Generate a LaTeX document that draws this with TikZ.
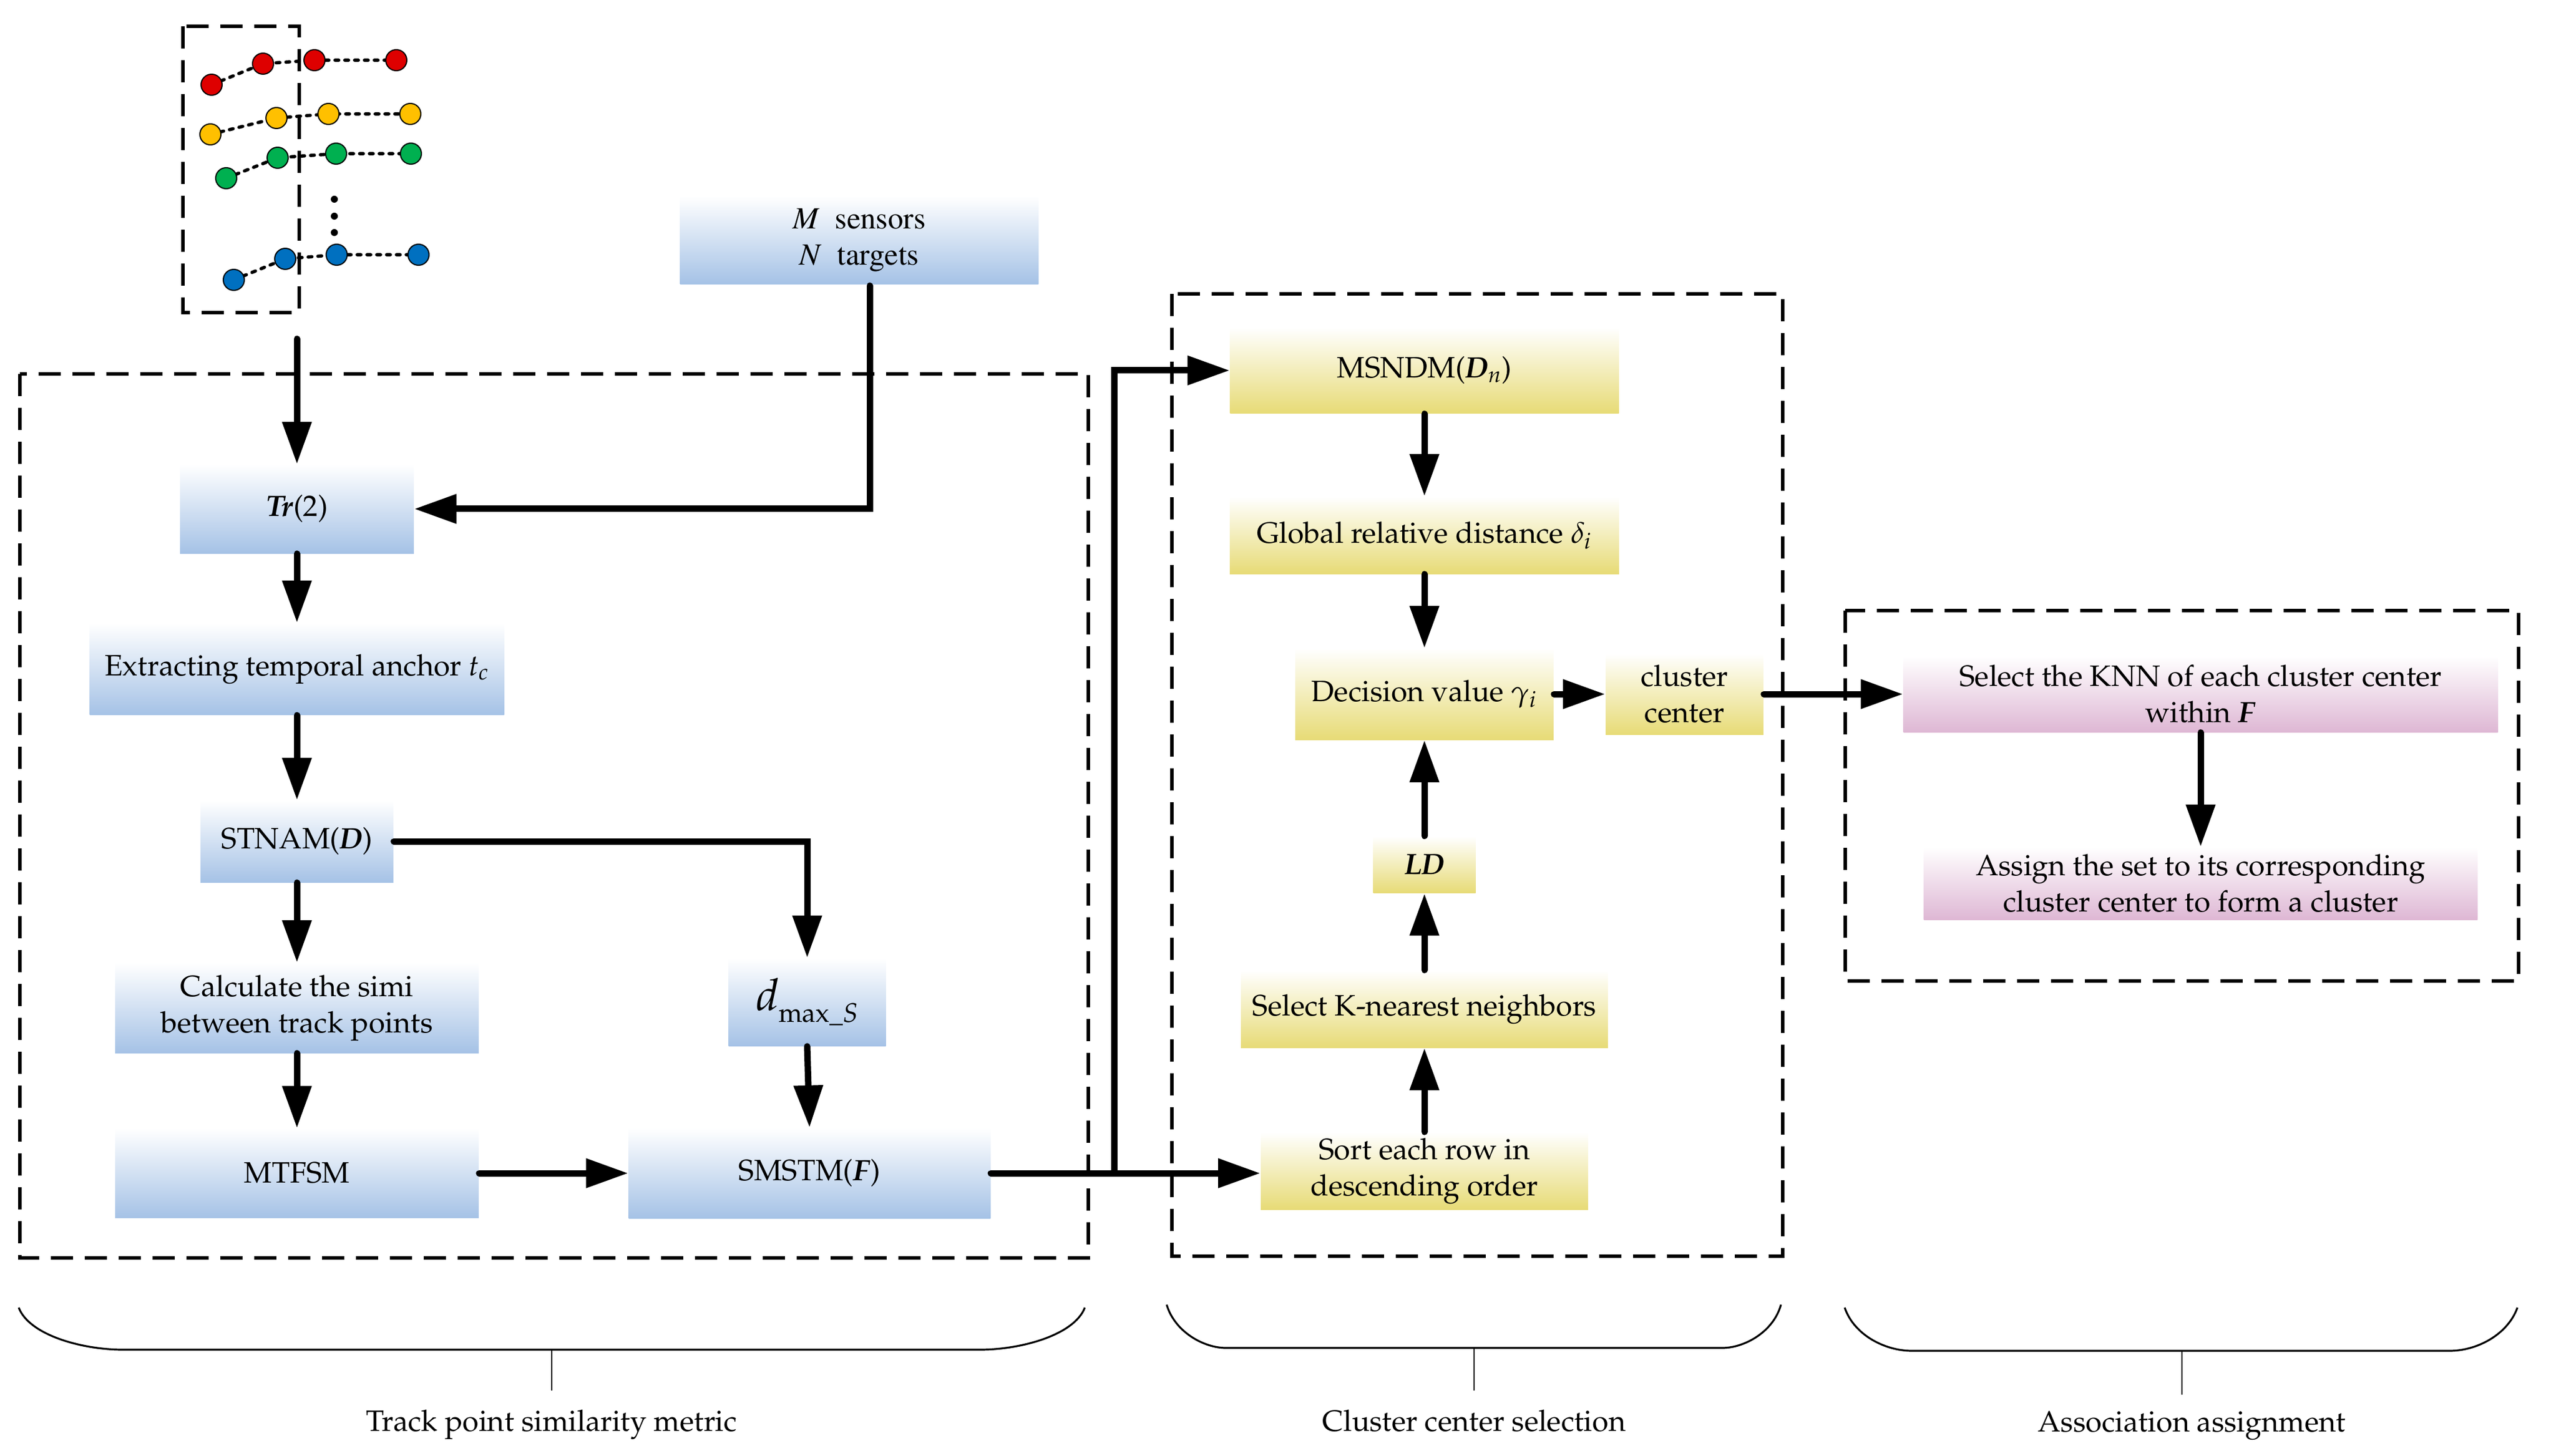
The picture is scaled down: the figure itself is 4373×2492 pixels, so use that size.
\documentclass[tikz,border=0pt]{standalone}
\usepackage[T1]{fontenc}
\usepackage{mathpazo}
\usetikzlibrary{arrows.meta}
\definecolor{blueB}{RGB}{165,194,230}
\definecolor{yelB}{RGB}{231,219,118}
\definecolor{pinkB}{RGB}{222,183,212}
\definecolor{dRed}{RGB}{222,0,0}
\definecolor{dYel}{RGB}{255,192,0}
\definecolor{dGrn}{RGB}{0,176,80}
\definecolor{dBlu}{RGB}{0,112,192}
\newcommand{\mainfnt}{\fontsize{12.6}{15.5}\selectfont}
\newcommand{\bi}[1]{\textbf{\textit{#1}}}
\begin{document}
\begin{tikzpicture}[x=0.25pt,y=-0.25pt,
  bbox/.style={rectangle, inner sep=0pt, align=center, draw=none,
    top color=white, bottom color=blueB, font=\mainfnt},
  ybox/.style={bbox, bottom color=yelB},
  pbox/.style={bbox, bottom color=pinkB},
  arr/.style={line width=2.75pt, line cap=round, -{Triangle[length=18pt,width=12pt]}},
  grp/.style={dash pattern=on 9.5pt off 5pt, line width=1.35pt},
  trk/.style={line width=1.4pt, line cap=round, dash pattern=on 1.6pt off 2.6pt},
  dot/.style={draw=black, line width=0.5pt},
  brc/.style={line width=0.8pt},
  lbl/.style={font=\mainfnt, anchor=base, inner sep=0pt}
  ]
\useasboundingbox (0,0) rectangle (4373,2492);

% ---------- trajectories ----------
\draw[grp] (313,45) rectangle (512,535);
\draw[trk] (362,145) -- (450,109) -- (538,103) -- (678,103);
\draw[trk] (360,230) -- (473,202) -- (562,195) -- (702,195);
\draw[trk] (387,305) -- (475,270) -- (575,263) -- (703,263);
\draw[trk] (400,479) -- (488,443) -- (576,436) -- (716,436);
\foreach \p in {(362,145),(450,109),(538,103),(678,103)} \filldraw[dot,fill=dRed] \p circle[radius=18];
\foreach \p in {(360,230),(473,202),(562,195),(702,195)} \filldraw[dot,fill=dYel] \p circle[radius=18];
\foreach \p in {(387,305),(475,270),(575,263),(703,263)} \filldraw[dot,fill=dGrn] \p circle[radius=18];
\foreach \p in {(400,479),(488,443),(576,436),(716,436)} \filldraw[dot,fill=dBlu] \p circle[radius=18];
\foreach \yy in {341,370,398} \fill (572,\yy) circle[radius=6];
\coordinate (trstart) at (508,580);

% ---------- group boxes ----------
\draw[grp] (34,640) rectangle (1862,2153);
\draw[grp] (2005,503) rectangle (3050,2150);
\draw[grp] (3157,1045) rectangle (4309,1679);

% ---------- left column ----------
\node[bbox, minimum width=153.25pt, minimum height=37.75pt,
  font=\fontsize{13.2}{15.5}\fontfamily{ptm}\selectfont] (ms) at (1470,411)
  {\textit{M}\ \ sensors\\\textit{N}\ \ targets};
\coordinate (msdrop) at (1488,489);
\node[bbox, minimum width=100pt, minimum height=38pt] (tr) at (508,871) {\bi{Tr}(2)};
\node[bbox, minimum width=177.25pt, minimum height=39.25pt] (ext) at (508,1145)
  {Extracting temporal anchor \textit{t}\textsubscript{\textit{c}}};
\node[bbox, minimum width=82.5pt, minimum height=35pt] (stn) at (508,1440) {STNAM(\bi{D})};
\node[bbox, minimum width=155.5pt, minimum height=38.5pt] (calc) at (508,1725)
  {Calculate the simi\\between track points};
\node[bbox, minimum width=155.5pt, minimum height=38.25pt] (mtf) at (508,2008) {MTFSM};
\node[bbox, minimum width=67.25pt, minimum height=37.5pt] (dmax) at (1381,1715)
  {{\fontsize{19}{20}\selectfont\itshape d}\raisebox{-5pt}{\fontsize{11.5}{12}\selectfont max\_\textit{S}}};
\node[bbox, minimum width=154.75pt, minimum height=38.75pt] (sms) at (1385,2008) {SMSTM(\bi{F})};
\coordinate (jn) at (1906,2008);

% ---------- middle column ----------
\node[ybox, minimum width=166.25pt, minimum height=36.75pt] (msn) at (2437,634)
  {MSNDM(\bi{D}\textsubscript{\textit{n}})};
\node[ybox, minimum width=166.5pt, minimum height=33pt] (glo) at (2437,916)
  {Global relative distance $\delta_i$};
\node[ybox, minimum width=110.5pt, minimum height=39pt] (dec) at (2437,1188)
  {Decision value $\gamma_i$};
\node[ybox, minimum width=67.5pt, minimum height=34.75pt] (cc) at (2882,1188)
  {cluster\\center};
\node[ybox, minimum width=43.75pt, minimum height=24.25pt] (ld) at (2437,1480) {\bi{LD}};
\node[ybox, minimum width=157pt, minimum height=33pt] (skn) at (2437,1727)
  {Select K-nearest neighbors};
\node[ybox, minimum width=140pt, minimum height=33pt] (sort) at (2437,2004)
  {Sort each row in\\descending order};

% ---------- right column ----------
\node[pbox, minimum width=254.25pt, minimum height=32.5pt] (knn) at (3765,1188)
  {Select the KNN of each cluster center\\within \bi{F}};
\node[pbox, minimum width=236.75pt, minimum height=31pt] (asg) at (3765,1512)
  {Assign the set to its corresponding\\cluster center to form a cluster};

% ---------- arrows ----------
\draw[arr] (trstart) -- (tr.north);
\draw[arr] (msdrop) |- (tr.east);
\draw[arr] (tr.south) -- (ext.north);
\draw[arr] (ext.south) -- (stn.north);
\draw[arr] (stn.south) -- (calc.north);
\draw[arr] (calc.south) -- (mtf.north);
\draw[arr] (stn.east) -| (dmax.north);
\draw[arr] (dmax.south) -- (sms.north);
\draw[arr] (mtf.east) -- (sms.west);
\draw[arr] (sms.east) -- (jn) |- (msn.west);
\draw[arr] (jn) -- (jn -| sort.west);
\draw[arr] (msn.south) -- (glo.north);
\draw[arr] (glo.south) -- (dec.north);
\draw[arr] (sort.north) -- (skn.south);
\draw[arr] (skn.north) -- (ld.south);
\draw[arr] (ld.north) -- (dec.south);
\draw[arr] (dec.east) -- (cc.west);
\draw[arr] (cc.east) -- (knn.west);
\draw[arr] (knn.south) -- (asg.north);

% ---------- braces ----------
\draw[brc] (32,2238) .. controls (50,2285) and (140,2310) .. (210,2310) -- (1677,2310)
  .. controls (1747,2310) and (1838,2285) .. (1856,2238);
\draw[line width=0.5pt] (944,2310) -- (944,2380);
\node[lbl] (l1) at (944,2449) {Track point similarity metric};
\draw[brc] (1996,2233) .. controls (2010,2280) and (2060,2307) .. (2097,2307) -- (2947,2307)
  .. controls (2984,2307) and (3034,2280) .. (3047,2233);
\draw[line width=0.5pt] (2522,2307) -- (2522,2380);
\node[lbl] (l2) at (2522,2449) {Cluster center selection};
\draw[brc] (3156,2238) .. controls (3172,2285) and (3225,2312) .. (3271,2312) -- (4191,2312)
  .. controls (4237,2312) and (4290,2285) .. (4307,2238);
\draw[line width=0.5pt] (3733,2312) -- (3733,2387);
\node[lbl] (l3) at (3750,2450) {Association assignment};
\end{tikzpicture}
\end{document}
